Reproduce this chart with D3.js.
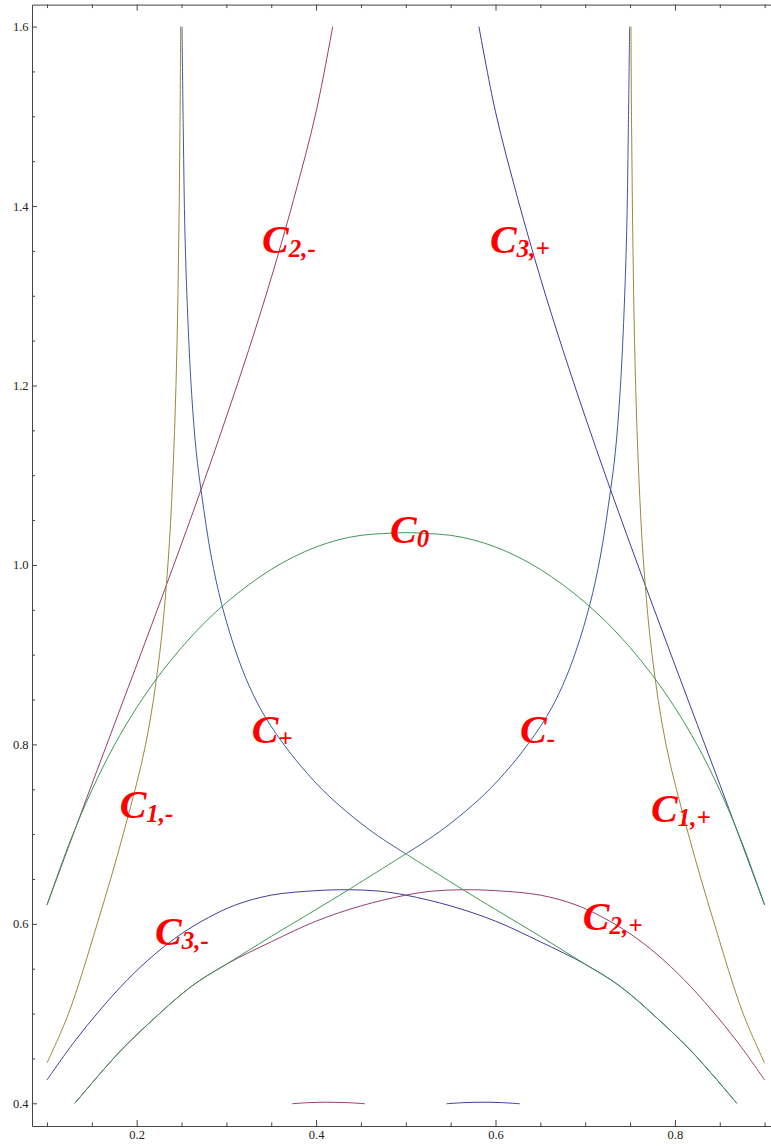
<!DOCTYPE html>
<html>
<head>
<meta charset="utf-8">
<script src="https://cdnjs.cloudflare.com/ajax/libs/d3/7.8.5/d3.min.js"></script>
<style>
body { margin: 0; background: #fff; }
.axis text { font-family: "Liberation Serif", "Times New Roman", serif; font-size: 12.5px; fill: #222; }
.axis path, .axis line { stroke: #444; }
.curve { fill: none; stroke-width: 1; }
.lbl { font-family: "Liberation Serif", "Times New Roman", serif; font-weight: bold; font-style: italic; fill: #ff0000; }
</style>
</head>
<body>
<svg id="chart" width="771" height="1146"></svg>
<script>
// tick values
var xMajorTicks = [0.2, 0.4, 0.6, 0.8];
var xMinorTicks = [0.1, 0.15, 0.25, 0.3, 0.35, 0.45, 0.5, 0.55, 0.65, 0.7, 0.75, 0.85, 0.9];
var yMajorTicks = [0.4, 0.6, 0.8, 1.0, 1.2, 1.4, 1.6];
var yMinorTicks = [0.45, 0.5, 0.55, 0.65, 0.7, 0.75, 0.85, 0.9, 0.95, 1.05, 1.1, 1.15, 1.25, 1.3, 1.35, 1.45, 1.5, 1.55];

// curves as [x, y]
var c1Minus = [[0.1, 0.445], [0.124, 0.5], [0.156, 0.6], [0.185, 0.7], [0.21, 0.8], [0.2255, 0.9], [0.2348, 1.0], [0.2403, 1.1], [0.2438, 1.2], [0.246, 1.3], [0.2474, 1.4], [0.2484, 1.5], [0.249, 1.6]];
var c1Plus = [[0.9, 0.445], [0.876, 0.5], [0.844, 0.6], [0.815, 0.7], [0.79, 0.8], [0.7745, 0.9], [0.7652, 1.0], [0.7597, 1.1], [0.7562, 1.2], [0.754, 1.3], [0.7526, 1.4], [0.7516, 1.5], [0.751, 1.6]];

var c2Minus = [[0.1, 0.621], [0.125, 0.6885], [0.15, 0.7555], [0.175, 0.822], [0.2, 0.8885], [0.225, 0.9555], [0.25, 1.0235], [0.275, 1.093], [0.3, 1.165], [0.325, 1.24], [0.35, 1.32], [0.375, 1.4075], [0.4, 1.505], [0.4185, 1.6]];
var c3Plus = [[0.9, 0.621], [0.875, 0.6885], [0.85, 0.7555], [0.825, 0.822], [0.8, 0.8885], [0.775, 0.9555], [0.75, 1.0235], [0.725, 1.093], [0.7, 1.165], [0.675, 1.24], [0.65, 1.32], [0.625, 1.4075], [0.6, 1.505], [0.5815, 1.6]];

var c0 = [[0.1, 0.621], [0.125, 0.69], [0.15, 0.749], [0.175, 0.799], [0.2, 0.841], [0.225, 0.877], [0.25, 0.908], [0.275, 0.935], [0.3, 0.958], [0.325, 0.978], [0.35, 0.995], [0.375, 1.009], [0.4, 1.02], [0.425, 1.028], [0.45, 1.033], [0.475, 1.035], [0.5, 1.036],
    [0.525, 1.035], [0.55, 1.033], [0.575, 1.028], [0.6, 1.02], [0.625, 1.009], [0.65, 0.995], [0.675, 0.978], [0.7, 0.958], [0.725, 0.935], [0.75, 0.908], [0.775, 0.877], [0.8, 0.841], [0.825, 0.799], [0.85, 0.749], [0.875, 0.69], [0.9, 0.621]];

var cPlusUpper = [[0.2505, 1.6], [0.252, 1.48], [0.2538, 1.37], [0.2572, 1.27], [0.2613, 1.19], [0.2665, 1.125], [0.2725, 1.078], [0.283, 1.01], [0.2948, 0.956], [0.31, 0.905], [0.325, 0.866], [0.343, 0.831], [0.37, 0.792], [0.397, 0.76], [0.418, 0.739], [0.45, 0.712], [0.475, 0.694], [0.5, 0.678]];
var cMinusUpper = [[0.7495, 1.6], [0.748, 1.48], [0.7462, 1.37], [0.7428, 1.27], [0.7387, 1.19], [0.7335, 1.125], [0.7275, 1.078], [0.717, 1.01], [0.7052, 0.956], [0.69, 0.905], [0.675, 0.866], [0.657, 0.831], [0.63, 0.792], [0.603, 0.76], [0.582, 0.739], [0.55, 0.712], [0.525, 0.694], [0.5, 0.678]];

var lowerLeft = [[0.131, 0.4], [0.16, 0.434], [0.1864, 0.463], [0.2606, 0.53], [0.3, 0.555], [0.35, 0.586], [0.4, 0.616], [0.4345, 0.637], [0.5, 0.678]];
var lowerRight = [[0.5, 0.678], [0.5655, 0.637], [0.6, 0.616], [0.65, 0.586], [0.7, 0.555], [0.7394, 0.53], [0.8136, 0.463], [0.84, 0.434], [0.869, 0.4]];

var c3Minus = [[0.1, 0.426], [0.13, 0.468], [0.16, 0.505], [0.19, 0.538], [0.22, 0.566], [0.25, 0.589], [0.28, 0.607], [0.31, 0.621], [0.35, 0.632], [0.4, 0.637], [0.4365, 0.638], [0.47, 0.6365], [0.5, 0.632], [0.55, 0.62], [0.6, 0.603], [0.65, 0.58], [0.7, 0.555], [0.7394, 0.53], [0.78, 0.495], [0.8136, 0.463], [0.84, 0.434], [0.869, 0.4]];
var c2Plus = [[0.9, 0.426], [0.87, 0.468], [0.84, 0.505], [0.81, 0.538], [0.78, 0.566], [0.75, 0.589], [0.72, 0.607], [0.69, 0.621], [0.65, 0.632], [0.6, 0.637], [0.5635, 0.638], [0.53, 0.6365], [0.5, 0.632], [0.45, 0.62], [0.4, 0.603], [0.35, 0.58], [0.3, 0.555], [0.2606, 0.53], [0.22, 0.495], [0.1864, 0.463], [0.16, 0.434], [0.131, 0.4]];

var smallPurple = [[0.373, 0.3995], [0.393, 0.4008], [0.413, 0.4012], [0.433, 0.4008], [0.4545, 0.3995]];
var smallBlue = [[0.5455, 0.3995], [0.566, 0.4008], [0.586, 0.4012], [0.606, 0.4008], [0.627, 0.3995]];

var curveLabels = [
    { sub: "2,-", x: 0.3397, y: 1.348 },
    { sub: "3,+", x: 0.5939, y: 1.348 },
    { sub: "0", x: 0.4824, y: 1.0243 },
    { sub: "+", x: 0.3282, y: 0.8013 },
    { sub: "-", x: 0.6273, y: 0.8013 },
    { sub: "1,-", x: 0.181, y: 0.718 },
    { sub: "1,+", x: 0.7733, y: 0.714 },
    { sub: "3,-", x: 0.2204, y: 0.5765 },
    { sub: "2,+", x: 0.6972, y: 0.5932 }
];

var blue = "#3f3d99", purple = "#993d71", olive = "#998b3d", green = "#3d9956", blue2 = "#3d5a99";

var svg = d3.select("#chart");

var x = d3.scaleLinear().domain([0.0833, 0.9167]).range([32, 779.6]);
var y = d3.scaleLinear().domain([0.3747, 1.6245]).range([1126, 4.6]);

// frame: bottom
svg.append("g")
    .attr("class", "axis")
    .attr("transform", "translate(0,1126)")
    .call(d3.axisBottom(x).tickValues(xMajorTicks).tickSizeInner(-6).tickSizeOuter(0).tickPadding(4).tickFormat(d3.format(".1f")));
svg.append("g")
    .attr("class", "axis")
    .attr("transform", "translate(0,1126)")
    .call(d3.axisBottom(x).tickValues(xMinorTicks).tickSizeInner(-3.5).tickSizeOuter(0).tickFormat(""))
    .select(".domain").remove();

// top
svg.append("g")
    .attr("class", "axis")
    .attr("transform", "translate(0,4.6)")
    .call(d3.axisTop(x).tickValues(xMajorTicks).tickSizeInner(-6).tickSizeOuter(0).tickFormat(""));
svg.append("g")
    .attr("class", "axis")
    .attr("transform", "translate(0,4.6)")
    .call(d3.axisTop(x).tickValues(xMinorTicks).tickSizeInner(-3.5).tickSizeOuter(0).tickFormat(""))
    .select(".domain").remove();

// left
svg.append("g")
    .attr("class", "axis")
    .attr("transform", "translate(32,0)")
    .call(d3.axisLeft(y).tickValues(yMajorTicks).tickSizeInner(-5).tickSizeOuter(0).tickPadding(3.5).tickFormat(d3.format(".1f")));
svg.append("g")
    .attr("class", "axis")
    .attr("transform", "translate(32,0)")
    .call(d3.axisLeft(y).tickValues(yMinorTicks).tickSizeInner(-3).tickSizeOuter(0).tickFormat(""))
    .select(".domain").remove();

var line = d3.line()
    .x(function(d) { return x(d[0]); })
    .y(function(d) { return y(d[1]); })
    .curve(d3.curveCatmullRom.alpha(0.5));

var curves = [
    { data: c3Minus, color: blue },
    { data: c3Plus, color: blue },
    { data: smallBlue, color: blue },
    { data: c2Minus, color: purple },
    { data: c2Plus, color: purple },
    { data: smallPurple, color: purple },
    { data: c1Minus, color: olive },
    { data: c1Plus, color: olive },
    { data: cPlusUpper, color: blue2 },
    { data: cMinusUpper, color: blue2 },
    { data: c0, color: green },
    { data: lowerLeft, color: green },
    { data: lowerRight, color: green }
];

svg.append("g")
    .selectAll("path")
    .data(curves)
    .enter().append("path")
    .attr("class", "curve")
    .attr("stroke", function(d) { return d.color; })
    .attr("d", function(d) { return line(d.data); });

// curve names
var labels = svg.append("g")
    .selectAll("text")
    .data(curveLabels)
    .enter().append("text")
    .attr("class", "lbl")
    .attr("x", function(d) { return x(d.x); })
    .attr("y", function(d) { return y(d.y); });

labels.append("tspan")
    .attr("font-size", 40)
    .text("C");

labels.append("tspan")
    .attr("font-size", 25)
    .attr("dy", 4)
    .text(function(d) { return d.sub; });
</script>
</body>
</html>
